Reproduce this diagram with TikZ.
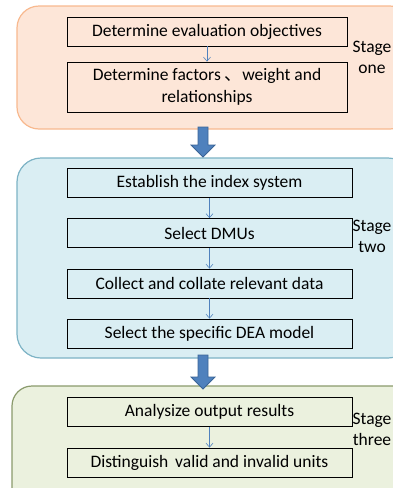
\documentclass[tikz,border=0pt]{standalone}
\usepackage{fontspec}
\setmainfont{Carlito}
\newfontfamily\cjkfont{Noto Sans CJK SC}
\usetikzlibrary{arrows.meta}
\definecolor{oneFill}{HTML}{FDE6D8}
\definecolor{oneLine}{HTML}{F8B98F}
\definecolor{twoFill}{HTML}{DAEEF3}
\definecolor{twoLine}{HTML}{7DB3C5}
\definecolor{threeFill}{HTML}{EBF1DE}
\definecolor{threeLine}{HTML}{8A9A6C}
\definecolor{flowBlue}{HTML}{4F81BD}
\definecolor{flowEdge}{HTML}{3A6496}
\begin{document}
\begin{tikzpicture}[x=1pt,y=-1pt,
    stepbox/.style={draw=black,line width=0.8pt,inner sep=0pt,align=center,
      minimum width=285pt,minimum height=29pt,font=\fontsize{17.5}{22}\selectfont},
    stage/.style={align=center,inner sep=0pt,font=\fontsize{17.5}{21}\selectfont},
    flow/.style={draw=flowBlue,line width=0.6pt,-{Straight Barb[length=4pt,width=7pt]}},
    bigarrow/.style={fill=flowBlue,draw=flowEdge,line width=0.8pt}]
  \useasboundingbox (0,0) rectangle (393,488);
  \clip (0,0) rectangle (393,488);

  % the three stage panels
  \draw[fill=oneFill,draw=oneLine,line width=1.2pt,rounded corners=22pt] (17,6) rectangle (412,129);
  \draw[fill=twoFill,draw=twoLine,line width=1.2pt,rounded corners=24pt] (17,158) rectangle (412,358);
  \draw[fill=threeFill,draw=threeLine,line width=1.2pt,rounded corners=20pt] (12,386) rectangle (412,520);

  %% big arrows between the panels
  \foreach \t/\b in {127/145,355/377}
    \draw[bigarrow] (198,\t) -- ++(10,0) -- (208,\b) -- ++(7,0) -- ++(-12,12)
      -- ++(-12,-12) -- ++(7,0) -- cycle;

  % stage one
  \node[stepbox,minimum width=280pt] (objectives) at (207,31.5) {Determine evaluation objectives};
  \node[stepbox,minimum width=280pt,minimum height=50pt] (factors) at (207,87)
    {Determine factors {\cjkfont 、}weight and\\relationships};
  \node[stage] (one) at (372,57) {Stage\\one};
  \draw[flow] (objectives) -- (factors);

  % stage two
  \node[stepbox] (index) at (209.5,183) {Establish the index system};
  \node[stepbox] (dmus) at (209.5,233) {Select DMUs};
  \node[stepbox] (data) at (209.5,283.5) {Collect and collate relevant data};
  \node[stepbox] (model) at (209.5,333.5) {Select the specific DEA model};
  \node[stage] (two) at (372,236) {Stage\\two};
  \draw[flow] (index) -- (dmus);
  \draw[flow] (dmus) -- (data);
  \draw[flow] (data) -- (model);

  % stage three
  \node[stepbox] (results) at (209.5,412) {Analysize output results};
  \node[stepbox] (units) at (209.5,462.5) {Distinguish\, valid and invalid units};
  \node[stage] (three) at (372,429) {Stage\\three};
  \draw[flow] (results) -- (units);
\end{tikzpicture}
\end{document}
